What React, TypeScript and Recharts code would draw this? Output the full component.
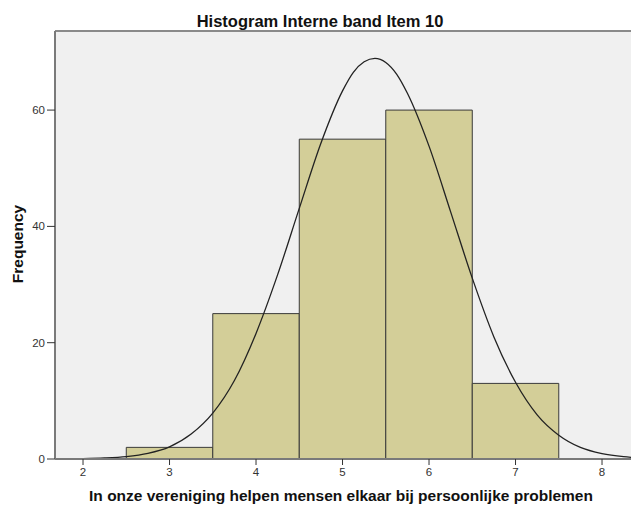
import React from 'react';
import { ComposedChart, Line, XAxis, YAxis, CartesianGrid, ReferenceArea, ReferenceLine } from 'recharts';

// histogram bins (item score, width 1)
const binStart = [2.5, 3.5, 4.5, 5.5, 6.5];
const binEnd = [3.5, 4.5, 5.5, 6.5, 7.5];
const counts = [2, 25, 55, 60, 13];

// normal curve overlay
const curveX = [1.75, 2, 2.25, 2.5, 2.75, 3, 3.25, 3.5, 3.75, 4, 4.25, 4.5, 4.75, 5, 5.125, 5.25, 5.375, 5.5, 5.625, 5.75, 6, 6.25, 6.5, 6.75, 7, 7.25, 7.5, 7.75, 8, 8.25, 8.5];
const curveY = [0.02, 0.06, 0.17, 0.42, 0.98, 2.1, 4.3, 7.9, 13.5, 21.6, 31.7, 43.1, 54.3, 63.3, 66.5, 68.3, 68.9, 68.2, 66.2, 62.9, 53.8, 42.5, 31.1, 21.0, 13.2, 7.6, 4.1, 2.0, 0.93, 0.4, 0.16];

const xTicks = [2, 3, 4, 5, 6, 7, 8];
const yTicks = [0, 20, 40, 60];

const FONT = '"Liberation Sans", Arial, sans-serif';
const Y_MAX = 73.6;

const curveData = curveX.map((x, i) => ({ x, y: curveY[i] }));

export default function App() {
  return (
    <div style={{ position: 'absolute', left: 0, top: 0, width: 631, height: 506, background: '#fff', fontFamily: FONT }}>
      <ComposedChart
        width={631}
        height={506}
        data={curveData}
        margin={{ top: 31, right: 0, left: 0, bottom: 0 }}
      >
        <CartesianGrid fill="#f0f0f0" horizontal={false} vertical={false} />
        <XAxis
          type="number"
          dataKey="x"
          domain={[1.676, 8.335]}
          allowDataOverflow
          ticks={xTicks}
          height={47}
          stroke="#7a7a7a"
          strokeWidth={2}
          tickSize={6}
          tickMargin={3}
          tick={{ fontSize: 11.5, fill: '#333', fontFamily: FONT }}
          tickLine={{ stroke: '#333', strokeWidth: 1 }}
        />
        <YAxis
          type="number"
          domain={[0, Y_MAX]}
          allowDataOverflow
          ticks={yTicks}
          width={55}
          stroke="#7a7a7a"
          strokeWidth={2}
          tickSize={8}
          tickMargin={2}
          tick={{ fontSize: 11.5, fill: '#333', fontFamily: FONT }}
          tickLine={{ stroke: '#333', strokeWidth: 1 }}
        />
        <ReferenceLine y={Y_MAX} stroke="#8a8a8a" strokeWidth={2} />
        {counts.map((c, i) => (
          <ReferenceArea
            key={i}
            x1={binStart[i]}
            x2={binEnd[i]}
            y1={0}
            y2={c}
            fill="#d3ce98"
            fillOpacity={1}
            stroke="#3a3a3a"
            strokeOpacity={1}
            strokeWidth={1}
          />
        ))}
        <Line
          type="monotone"
          dataKey="y"
          stroke="#222"
          strokeWidth={1.3}
          dot={false}
          isAnimationActive={false}
        />
        <text x={320} y={27} textAnchor="middle" fontSize={16.5} fontWeight="bold" fontFamily={FONT} fill="#111">
          Histogram Interne band Item 10
        </text>
        <text x={341} y={501} textAnchor="middle" fontSize={15.5} fontWeight="bold" fontFamily={FONT} fill="#111">
          In onze vereniging helpen mensen elkaar bij persoonlijke problemen
        </text>
        <text x={23} y={244} textAnchor="middle" fontSize={15.5} fontWeight="bold" fontFamily={FONT} fill="#111" transform="rotate(-90 23 244)">
          Frequency
        </text>
      </ComposedChart>
    </div>
  );
}
